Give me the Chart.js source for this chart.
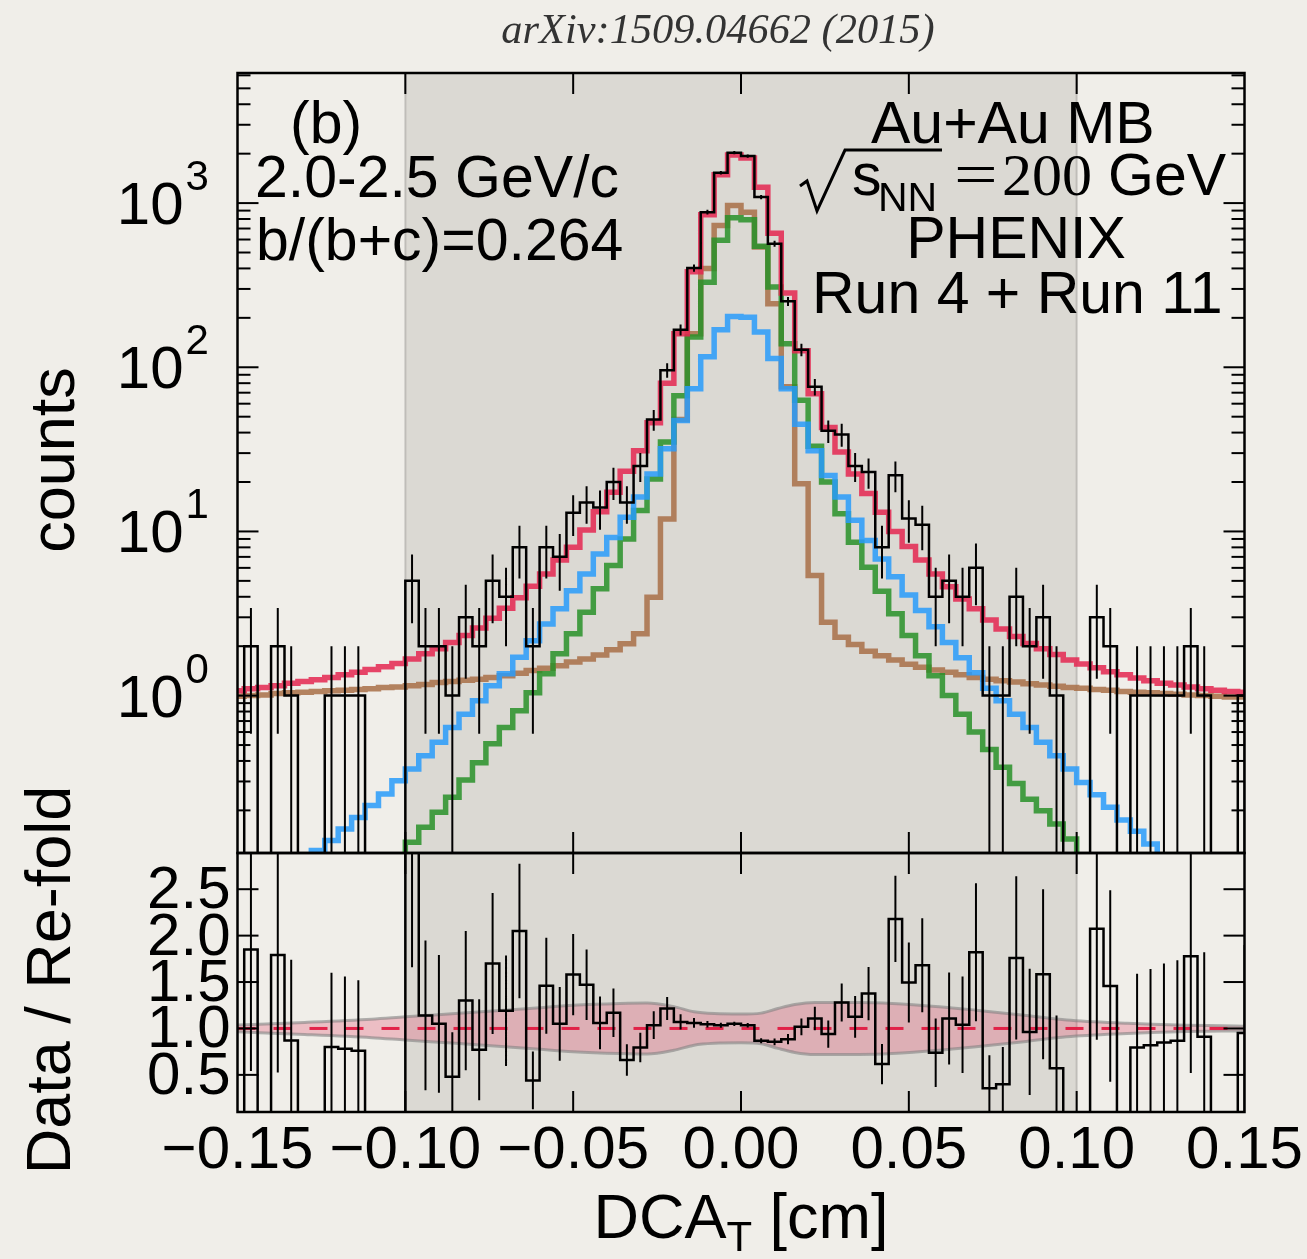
<!DOCTYPE html>
<html><head><meta charset="utf-8">
<script src="https://cdn.jsdelivr.net/npm/chart.js@4.4.1/dist/chart.umd.min.js"></script>
<style>
html,body{margin:0;padding:0;background:#f0eee9;}
#wrap{position:relative;width:1307px;height:1259px;background:#f0eee9;overflow:hidden;}
canvas{position:absolute;left:0;}
#c1{top:0;} #c2{top:700px;}
</style></head><body>
<div id="wrap"><canvas id="c1" width="1307" height="870"></canvas><canvas id="c2" width="1307" height="559"></canvas></div>
<script>
// ---------------- DATA ----------------
const binCenters = [-0.150,-0.146,-0.142,-0.138,-0.134,-0.130,-0.126,-0.122,-0.118,-0.114,-0.110,-0.106,-0.102,-0.098,-0.094,-0.090,-0.086,-0.082,-0.078,-0.074,-0.070,-0.066,-0.062,-0.058,-0.054,-0.050,-0.046,-0.042,-0.038,-0.034,-0.030,-0.026,-0.022,-0.018,-0.014,-0.010,-0.006,-0.002,
 0.002,0.006,0.010,0.014,0.018,0.022,0.026,0.030,0.034,0.038,0.042,0.046,0.050,0.054,0.058,0.062,0.066,0.070,0.074,0.078,0.082,0.086,0.090,0.094,0.098,0.102,0.106,0.110,0.114,0.118,0.122,0.126,0.130,0.134,0.138,0.142,0.146,0.150];

// data counts
const dataCounts = [0,2,0,2,1,0,0,1,1,1,0,0,0,5,2,2,1,3,2,5,4,8,2,8,7,13,15,14,20,15,25,48,96,169,402,881,1531,2028,
 1935,1088,566,252,128,76,41,39,25,23,8,22,12,11,4,5,4,6,1,1,4,2,3,1,0,0,3,2,0,1,1,1,1,2,1,0,0,1];
// re-folded sum (red)
const refoldSum = [1.07,1.10,1.12,1.15,1.19,1.22,1.25,1.29,1.34,1.39,1.44,1.50,1.57,1.67,1.80,1.93,2.11,2.32,2.58,2.96,3.40,3.94,4.63,5.51,6.71,8.01,10.2,13.2,17.3,23.3,31,46,80,160,382,850,1490,1960,
 1880,1250,655,283,126,69,43,30.5,22.4,17,13.1,10.0,8.1,6.7,5.5,4.6,3.88,3.38,2.89,2.55,2.29,2.08,1.93,1.78,1.65,1.56,1.48,1.40,1.34,1.28,1.23,1.19,1.16,1.13,1.10,1.08,1.06,1.05];
// brown component
const brownComp = [0.99,1.00,1.01,1.03,1.04,1.05,1.06,1.07,1.08,1.09,1.10,1.12,1.13,1.15,1.17,1.20,1.22,1.24,1.26,1.29,1.32,1.37,1.42,1.47,1.52,1.60,1.67,1.77,1.90,2.07,2.38,3.97,11.9,48,160,400,731,968,
 881,540,244,76,19.5,5.4,2.8,2.27,2.05,1.86,1.75,1.65,1.55,1.49,1.43,1.39,1.34,1.29,1.26,1.23,1.21,1.18,1.16,1.14,1.12,1.11,1.09,1.08,1.06,1.05,1.04,1.03,1.02,1.01,1.00,0.99,0.98,0.98];
// green component
const greenComp = [0.009,0.011,0.014,0.017,0.020,0.025,0.031,0.038,0.047,0.057,0.070,0.085,0.105,0.128,0.158,0.195,0.240,0.306,0.39,0.51,0.64,0.81,1.04,1.36,1.80,2.38,3.22,4.47,6.2,9.0,13.4,20.9,35,67,153,330,593,815,
 792,545,308,139,63,33,20,12.8,8.6,6.05,4.32,3.15,2.32,1.75,1.32,1.0,0.77,0.60,0.47,0.366,0.292,0.234,0.199,0.165,0.134,0.105,0.085,0.070,0.057,0.047,0.038,0.031,0.025,0.020,0.017,0.014,0.011,0.009];
// blue component
const blueComp = [0.051,0.058,0.066,0.075,0.085,0.097,0.114,0.131,0.154,0.181,0.214,0.252,0.303,0.357,0.43,0.52,0.64,0.77,0.93,1.15,1.36,1.71,2.16,2.73,3.38,4.36,5.5,7.3,9.2,12.2,16.2,22.4,31.9,47.4,74,116,169,204,
 202,164,113,74,45,31,21.9,16.2,11.7,8.8,6.8,5.3,4.1,3.30,2.63,2.11,1.70,1.38,1.11,0.93,0.77,0.64,0.52,0.43,0.357,0.296,0.249,0.209,0.175,0.149,0.125,0.105,0.092,0.080,0.070,0.062,0.054,0.047];
// data / re-fold ratio
const ratioVals = [0,1.85,0,1.79,0.87,0,0,0.80,0.78,0.76,0,0,0,3.0,1.14,1.05,0.48,1.30,0.77,1.70,1.19,2.05,0.44,1.46,1.05,1.58,1.47,1.06,1.17,0.66,0.795,1.035,1.215,1.07,1.06,1.045,1.035,1.05,
 1.035,0.867,0.856,0.885,1.017,1.107,0.94,1.28,1.125,1.376,0.616,2.18,1.495,1.68,0.738,1.108,1.04,1.82,0.355,0.40,1.76,0.963,1.584,0.57,0,0,2.075,1.458,0,0.795,0.82,0.85,0.867,1.777,0.91,0,0,0.95];
// systematic band half-width (ratio units)
const bandX    = [-0.150,-0.130,-0.110,-0.100,-0.085,-0.063,-0.050,-0.036,-0.028,-0.020,-0.014,-0.008,0.000,0.006,0.011,0.016,0.022,0.035,0.045,0.059,0.070,0.085,0.097,0.115,0.130,0.150];
const bandHalf = [0.036,0.065,0.10,0.125,0.16,0.215,0.25,0.27,0.275,0.235,0.18,0.16,0.155,0.165,0.215,0.258,0.28,0.28,0.27,0.235,0.197,0.14,0.09,0.055,0.036,0.025];
const refLine = [1, 1];
const refLineX = [-0.15, 0.15];
const shadeRange = [-0.10, 0.10];
const xTickValues = [-0.15,-0.10,-0.05,0.00,0.05,0.10,0.15];
const xTickLabels = ["\u22120.15","\u22120.10","\u22120.05","0.00","0.05","0.10","0.15"];
const yTickDecades = [0,1,2,3];
const ratioTickValues = [0.5,1.0,1.5,2.0,2.5];
const ratioTickLabels = ["0.5","1.0","1.5","2.0","2.5"];

// ---------------- HELPERS ----------------
const SANS = '"Liberation Sans", Arial, Helvetica, sans-serif';
const SERIF = '"Liberation Serif", "Times New Roman", serif';
const ZERO_LOG = 1e-3;
function hist(vals, zeroVal) {
  return binCenters.map((c, i) => ({x: c, y: vals[i] > 0 ? vals[i] : zeroVal}));
}
function topErrors() {
  const pts = [];
  binCenters.forEach((c, i) => {
    const n = dataCounts[i];
    if (n <= 0) return;
    const e = Math.sqrt(n);
    pts.push({x: c, y: n - e > 0 ? n - e : ZERO_LOG}, {x: c, y: n + e}, {x: c, y: null});
  });
  return pts;
}
function ratioErrors() {
  const pts = [];
  binCenters.forEach((c, i) => {
    const n = dataCounts[i], r = ratioVals[i];
    if (n <= 0 || r <= 0) return;
    const e = r / Math.sqrt(n);
    pts.push({x: c, y: r - e}, {x: c, y: r + e}, {x: c, y: null});
  });
  return pts;
}
function line(ctx, x1, y1, x2, y2) { ctx.beginPath(); ctx.moveTo(x1, y1); ctx.lineTo(x2, y2); ctx.stroke(); }
function shade(chart) {
  const {ctx, chartArea: a, scales: {x}} = chart;
  const x1 = x.getPixelForValue(shadeRange[0]), x2 = x.getPixelForValue(shadeRange[1]);
  ctx.save();
  ctx.fillStyle = 'rgba(70,62,55,0.12)';
  ctx.fillRect(x1, a.top, x2 - x1, a.bottom - a.top);
  ctx.strokeStyle = 'rgba(0,0,0,0.16)'; ctx.lineWidth = 2;
  line(ctx, x1, a.top, x1, a.bottom); line(ctx, x2, a.top, x2, a.bottom);
  ctx.restore();
}
function xTicks(chart) {
  const {ctx, chartArea: a, scales: {x}} = chart;
  xTickValues.forEach(t => {
    const px = x.getPixelForValue(t);
    if (px <= a.left + 1 || px >= a.right - 1) return;
    line(ctx, px, a.top, px, a.top + 21);
    line(ctx, px, a.bottom, px, a.bottom - 21);
  });
}

const commonOpts = (padTop, padBottom, yScale) => ({
  responsive: false, animation: false, devicePixelRatio: 1, events: [],
  layout: {padding: {left: 237.5, right: 62.5, top: padTop, bottom: padBottom}},
  plugins: {legend: {display: false}, tooltip: {enabled: false}},
  elements: {point: {radius: 0}, line: {tension: 0}},
  scales: {
    x: {type: 'linear', min: -0.15, max: 0.15, display: false},
    y: Object.assign({display: false}, yScale)
  }
});

// ---------------- TOP PANEL ----------------
const topPlugin = {
  id: 'topPlugin',
  beforeDatasetsDraw(chart) { shade(chart); },
  afterDatasetsDraw(chart) {
    const {ctx, chartArea: a, scales: {x, y}} = chart;
    ctx.save();
    ctx.strokeStyle = '#000'; ctx.lineWidth = 2;
    for (let d = -1; d <= 3; d++) for (let m = 1; m <= 9; m++) {
      const v = m * Math.pow(10, d);
      if (v < y.min || v > y.max) continue;
      const py = y.getPixelForValue(v);
      const L = m === 1 ? 21 : 13;
      line(ctx, a.left, py, a.left + L, py);
      line(ctx, a.right, py, a.right - L, py);
    }
    xTicks(chart);
    ctx.lineWidth = 2.5;
    ctx.strokeRect(a.left, a.top, a.right - a.left, a.bottom - a.top);
    // y tick labels 10^k
    ctx.fillStyle = '#000';
    yTickDecades.forEach(k => {
      const py = y.getPixelForValue(Math.pow(10, k));
      ctx.font = '60px ' + SANS; ctx.textAlign = 'right'; ctx.textBaseline = 'alphabetic';
      ctx.fillText('10', a.left - 54, py + 21);
      ctx.font = '42px ' + SANS; ctx.textAlign = 'left';
      ctx.fillText(String(k), a.left - 52, py - 13);
    });
    // axis title
    ctx.save();
    ctx.translate(57, 460); ctx.rotate(-Math.PI / 2);
    ctx.font = '63px ' + SANS; ctx.textAlign = 'center'; ctx.textBaseline = 'middle';
    ctx.fillText('counts', 0, 0);
    ctx.restore();
    // header, sized to span the same width as the reference
    const header = 'arXiv:1509.04662 (2015)';
    ctx.font = 'italic 40px ' + SERIF;
    const hw = ctx.measureText(header).width;
    const hs = Math.min(44, 40 * 433 / hw);
    ctx.font = 'italic ' + hs.toFixed(1) + 'px ' + SERIF;
    ctx.fillStyle = '#333'; ctx.textAlign = 'center';
    ctx.fillText(header, 718, 43);
    // annotations
    ctx.fillStyle = '#000'; ctx.textAlign = 'left';
    ctx.font = '59px ' + SANS;
    ctx.fillText('(b)', 290, 143);
    ctx.fillText('2.0-2.5 GeV/c', 255, 197);
    ctx.fillText('b/(b+c)=0.264', 256, 260);
    ctx.fillText('Au+Au MB', 871, 143);
    ctx.textAlign = 'center';
    ctx.fillText('PHENIX', 1016, 258);
    ctx.textAlign = 'left';
    ctx.fillText('Run 4 + Run 11', 812, 313);
    // sqrt(s_NN) = 200 GeV
    ctx.lineWidth = 3; ctx.lineJoin = 'miter';
    ctx.beginPath();
    ctx.moveTo(800, 186); ctx.lineTo(807, 181); ctx.lineTo(817, 211); ctx.lineTo(845, 150); ctx.lineTo(942, 150);
    ctx.stroke();
    ctx.font = '59px ' + SANS; ctx.fillText('s', 852, 195);
    ctx.font = '41px ' + SANS; ctx.fillText('NN', 878, 211);
    ctx.save();
    ctx.translate(954, 195); ctx.scale(1.25, 1);
    ctx.font = '62px ' + SERIF; ctx.fillText('=', 0, 0);
    ctx.restore();
    ctx.font = '60px ' + SERIF; ctx.fillText('200', 1002, 195);
    ctx.font = '59px ' + SANS; ctx.fillText('GeV', 1108, 195);
    ctx.restore();
  }
};

new Chart(document.getElementById('c1'), {
  type: 'line',
  data: {datasets: [
    {data: topErrors(), borderColor: '#000', borderWidth: 2, spanGaps: false},
    {data: hist(dataCounts, ZERO_LOG), borderColor: '#000', borderWidth: 2.5, stepped: 'middle'},
    {data: hist(refoldSum, ZERO_LOG), borderColor: 'rgba(228,38,80,0.85)', borderWidth: 5.5, stepped: 'middle'},
    {data: hist(blueComp, ZERO_LOG), borderColor: 'rgba(40,155,250,0.85)', borderWidth: 5.5, stepped: 'middle'},
    {data: hist(greenComp, ZERO_LOG), borderColor: 'rgba(40,145,40,0.85)', borderWidth: 5.5, stepped: 'middle'},
    {data: hist(brownComp, ZERO_LOG), borderColor: 'rgba(168,110,70,0.85)', borderWidth: 5.5, stepped: 'middle'}
  ]},
  options: commonOpts(73, 17, {type: 'logarithmic', min: 0.11, max: 6200}),
  plugins: [topPlugin]
});

// ---------------- RATIO PANEL ----------------
const botPlugin = {
  id: 'botPlugin',
  beforeDatasetsDraw(chart) { shade(chart); },
  afterDatasetsDraw(chart) {
    const {ctx, chartArea: a, scales: {x, y}} = chart;
    ctx.save();
    ctx.strokeStyle = '#000'; ctx.lineWidth = 2;
    ratioTickValues.forEach(v => {
      const py = y.getPixelForValue(v);
      line(ctx, a.left, py, a.left + 21, py);
      line(ctx, a.right, py, a.right - 21, py);
    });
    xTicks(chart);
    ctx.lineWidth = 2.5;
    ctx.strokeRect(a.left, a.top, a.right - a.left, a.bottom - a.top);
    ctx.fillStyle = '#000';
    ctx.font = '60px ' + SANS; ctx.textAlign = 'right'; ctx.textBaseline = 'alphabetic';
    ratioTickValues.forEach((v, i) => {
      const py = y.getPixelForValue(v);
      ctx.fillText(ratioTickLabels[i], a.left - 7, py + 19);
    });
    ctx.textAlign = 'center';
    xTickValues.forEach((v, i) => {
      ctx.fillText(xTickLabels[i], x.getPixelForValue(v), 468);
    });
    // x title DCA_T [cm]
    ctx.textAlign = 'left';
    ctx.font = '63px ' + SANS;
    const w1 = ctx.measureText('DCA').width;
    const w3 = ctx.measureText(' [cm]').width;
    ctx.font = '42px ' + SANS;
    const w2 = ctx.measureText('T').width;
    const x0 = x.getPixelForValue(0) - (w1 + w2 + w3) / 2;
    ctx.font = '63px ' + SANS; ctx.fillText('DCA', x0, 538);
    ctx.font = '42px ' + SANS; ctx.fillText('T', x0 + w1, 551);
    ctx.font = '63px ' + SANS; ctx.fillText(' [cm]', x0 + w1 + w2, 538);
    // y title
    ctx.save();
    ctx.translate(53, 280); ctx.rotate(-Math.PI / 2);
    ctx.font = '63px ' + SANS; ctx.textAlign = 'center'; ctx.textBaseline = 'middle';
    ctx.fillText('Data / Re-fold', 0, 0);
    ctx.restore();
    ctx.restore();
  }
};

new Chart(document.getElementById('c2'), {
  type: 'line',
  data: {datasets: [
    {data: ratioErrors(), borderColor: '#000', borderWidth: 2, spanGaps: false},
    {data: hist(ratioVals, 0), borderColor: '#000', borderWidth: 2.5, stepped: 'middle'},
    {data: refLineX.map((v, i) => ({x: v, y: refLine[i]})), borderColor: 'rgba(225,25,65,0.95)', borderWidth: 3, borderDash: [18, 18]},
    {data: bandX.map((v, i) => ({x: v, y: 1 + bandHalf[i]})), borderColor: 'rgba(130,130,130,0.6)', borderWidth: 3, cubicInterpolationMode: 'monotone', fill: false},
    {data: bandX.map((v, i) => ({x: v, y: 1 - bandHalf[i]})), borderColor: 'rgba(130,130,130,0.6)', borderWidth: 3, cubicInterpolationMode: 'monotone', fill: '-1', backgroundColor: 'rgba(225,70,100,0.28)'}
  ]},
  options: commonOpts(153, 147, {type: 'linear', min: 0.1, max: 2.89}),
  plugins: [botPlugin]
});
</script>
</body></html>
